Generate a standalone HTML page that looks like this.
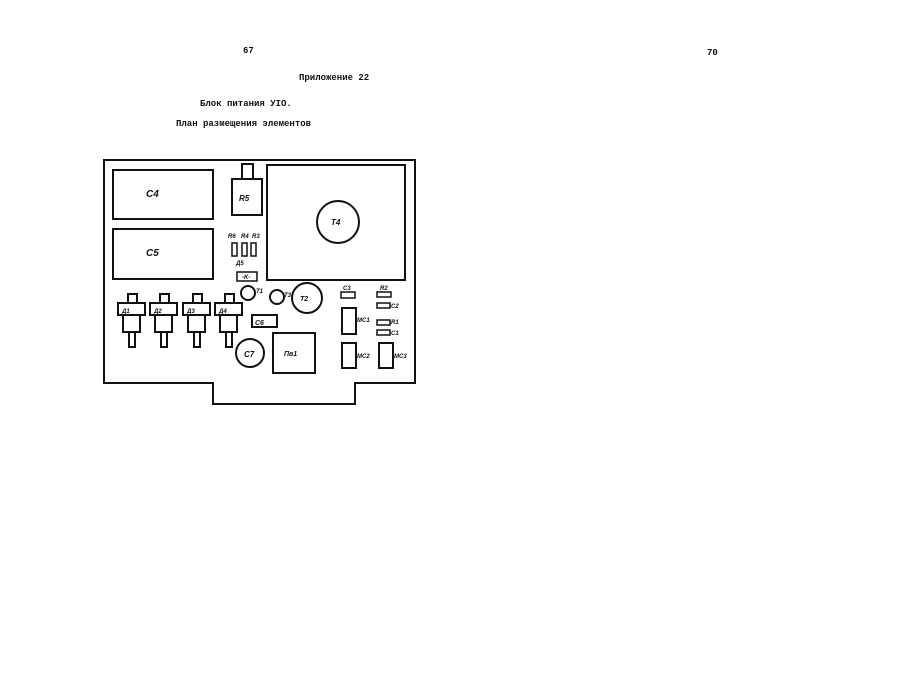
<!DOCTYPE html>
<html><head><meta charset="utf-8"><style>
body{margin:0;width:900px;height:685px;background:#fff;overflow:hidden}
svg{position:absolute;left:0;top:0}
text{font-family:"Liberation Mono",monospace;font-weight:bold;fill:#111}
.i{font-family:"Liberation Sans",sans-serif;font-style:italic;font-weight:bold}
</style></head><body>
<svg width="900" height="685" viewBox="0 0 900 685">
<g font-size="9">
<text x="243" y="53">67</text>
<text x="707" y="55">70</text>
<text x="299" y="80">Приложение 22</text>
<text x="200" y="106">Блок питания УIO.</text>
<text x="176" y="126">План размещения элементов</text>
</g>
<g fill="none" stroke="#111" stroke-width="2">
<path d="M104 160 H415 V383 H355 V404 H213 V383 H104 Z"/>
<rect x="113" y="170" width="100" height="49"/>
<rect x="113" y="229" width="100" height="50"/>
<rect x="232" y="179" width="30" height="36"/>
<rect x="242" y="164" width="11" height="15"/>
<rect x="267" y="165" width="138" height="115"/>
<circle cx="338" cy="222" r="21"/>
<g stroke-width="1.5">
<rect x="232" y="243" width="5" height="13"/>
<rect x="242" y="243" width="5" height="13"/>
<rect x="251" y="243" width="5" height="13"/>
<rect x="237" y="272" width="20" height="9"/>
</g>
<circle cx="248" cy="293" r="7"/>
<circle cx="277" cy="297" r="7"/>
<circle cx="307" cy="298" r="15"/>
<g id="d">
<rect x="128" y="294" width="9" height="9"/>
<rect x="118" y="303" width="27" height="12"/>
<rect x="123" y="315" width="17" height="17"/>
<rect x="129" y="332" width="6" height="15"/>
</g>
<use href="#d" x="32"/>
<use href="#d" x="65"/>
<use href="#d" x="97"/>
<rect x="252" y="315" width="25" height="12"/>
<circle cx="250" cy="353" r="14"/>
<rect x="273" y="333" width="42" height="40"/>
<g stroke-width="1.5">
<rect x="341" y="292" width="14" height="6"/>
<rect x="377" y="292" width="14" height="5"/>
<rect x="377" y="303" width="13" height="5"/>
<rect x="377" y="320" width="13" height="5"/>
<rect x="377" y="330" width="13" height="5"/>
</g>
<rect x="342" y="308" width="14" height="26"/>
<rect x="342" y="343" width="14" height="25"/>
<rect x="379" y="343" width="14" height="25"/>
</g>
<g class="i" font-size="10">
<text class="i" x="146" y="197">C4</text>
<text class="i" x="146" y="256">C5</text>
<text class="i" x="239" y="201" font-size="8">R5</text>
<text class="i" x="331" y="225" font-size="8">T4</text>
<text class="i" x="300" y="301" font-size="7">T2</text>
<text class="i" x="244" y="357" font-size="8">C7</text>
<text class="i" x="284" y="356" font-size="7">Пв1</text>
<text class="i" x="255" y="325" font-size="7">C6</text>
</g>
<g class="i" font-size="6">
<text class="i" x="228" y="238">R6</text>
<text class="i" x="241" y="238">R4</text>
<text class="i" x="252" y="238">R3</text>
<text class="i" x="236" y="265">Д5</text>
<text class="i" x="242" y="279">-K-</text>
<text class="i" x="256" y="293">T1</text>
<text class="i" x="284" y="297">T3</text>
<text class="i" x="122" y="313">Д1</text>
<text class="i" x="154" y="313">Д2</text>
<text class="i" x="187" y="313">Д3</text>
<text class="i" x="219" y="313">Д4</text>
<text class="i" x="343" y="290">C3</text>
<text class="i" x="380" y="290">R2</text>
<text class="i" x="391" y="308">C2</text>
<text class="i" x="391" y="324">R1</text>
<text class="i" x="391" y="335">C1</text>
<text class="i" x="357" y="322">MC1</text>
<text class="i" x="357" y="358">MC2</text>
<text class="i" x="394" y="358">MC3</text>
</g>
</svg>
</body></html>
